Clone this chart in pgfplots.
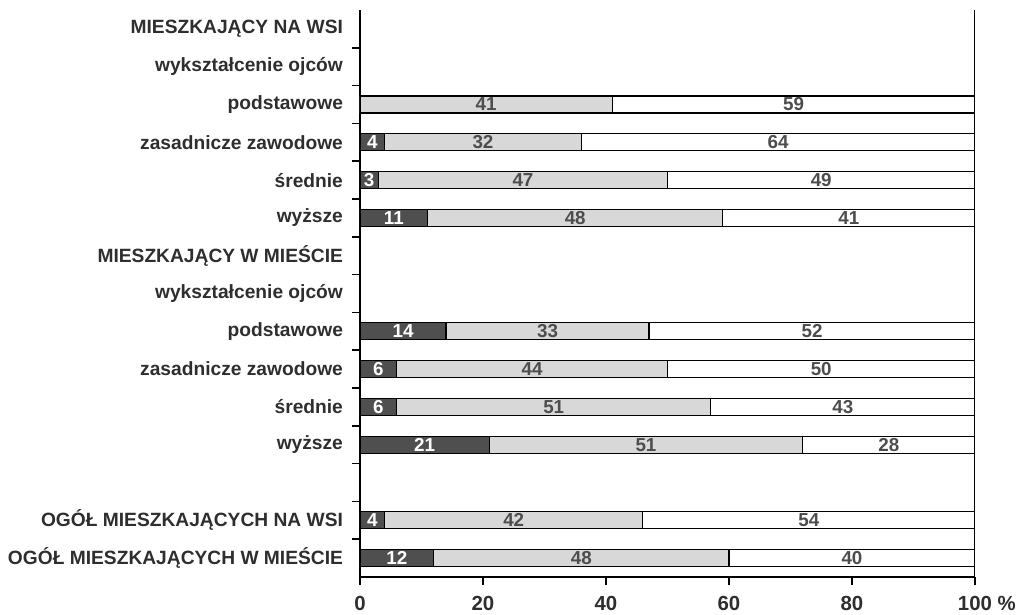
\documentclass[border=0pt]{standalone}
\usepackage{pgfplots}
\usepackage{pgfplotstable}
\pgfplotsset{compat=1.18}
\usepackage{fontspec}
\setmainfont{Liberation Sans}

\definecolor{ciemny}{HTML}{4F4F4F}
\definecolor{jasny}{HTML}{D8D8D8}
\definecolor{tekst}{HTML}{2E2E2E}

% y: pozycja wiersza (14 = gora), a: ciemny, b: jasny, c: bialy (jak na wykresie)
\pgfplotstableread{
y  a  b  c
12 0  41 59
11 4  32 64
10 3  47 49
9  11 48 41
6  14 33 52
5  6  44 50
4  6  51 43
3  21 51 28
1  4  42 54
0  12 48 40
}\dane
\pgfplotstablecreatecol[create col/expr={100-\thisrow{a}-\thisrow{b}}]{w}\dane
\pgfplotstablecreatecol[create col/expr={\thisrow{a}/2}]{ca}\dane
\pgfplotstablecreatecol[create col/expr={\thisrow{a}+\thisrow{b}/2}]{cb}\dane
\pgfplotstablecreatecol[create col/expr={(100+\thisrow{a}+\thisrow{b})/2}]{cc}\dane

\pgfplotsset{wspolne/.style={
  scale only axis, width=307.5pt, height=283.5pt,
  xmin=0, xmax=100, ymin=-0.5, ymax=14.5,
  at={(0,0)}, anchor=south west,
}}

\begin{document}
\begin{tikzpicture}
\begin{axis}[wspolne,
  xbar stacked, bar width=8.5pt,
  axis lines=left, axis line style={-, line width=0.8pt, black},
  tick align=outside, major tick length=0pt, minor tick length=4pt,
  minor tick style={line width=0.8pt, black},
  xtick={0,20,...,100},
  xticklabels={0,20,40,60,80,{100\rlap{ \%}}},
  minor xtick={0,20,...,100},
  xticklabel style={font=\bfseries\fontsize{10.2}{12}\selectfont, text=tekst, yshift=-6pt},
  ytick={0,...,14},
  minor ytick={0.5,1.5,...,13.5},
  yticklabels={OGÓŁ MIESZKAJĄCYCH W MIEŚCIE, OGÓŁ MIESZKAJĄCYCH NA WSI, {},
    wyższe, średnie, zasadnicze zawodowe, podstawowe, wykształcenie ojców,
    MIESZKAJĄCY W MIEŚCIE,
    wyższe, średnie, zasadnicze zawodowe, podstawowe, wykształcenie ojców,
    MIESZKAJĄCY NA WSI},
  yticklabel style={font=\bfseries\fontsize{9.6}{11}\selectfont, text=tekst, xshift=-5pt},
]
\addplot[fill=ciemny, draw=black, line width=0.6pt] table[x=a, y=y] {\dane};
\addplot[fill=jasny, draw=black, line width=0.6pt] table[x=b, y=y] {\dane};
\addplot[fill=white, draw=black, line width=0.6pt] table[x=w, y=y] {\dane};
\draw[line width=0.8pt] (rel axis cs:1,0) -- (rel axis cs:1,1);
\end{axis}

\begin{axis}[wspolne, hide axis,
  every node near coord/.style={anchor=center, inner sep=0pt,
    font=\bfseries\fontsize{9.4}{10}\selectfont}]
\addplot[draw=none, mark=none, restrict x to domain=1:100,
  nodes near coords, point meta=explicit symbolic,
  every node near coord/.append style={text=white}]
  table[x=ca, y=y, meta=a] {\dane};
\addplot[draw=none, mark=none,
  nodes near coords, point meta=explicit symbolic,
  every node near coord/.append style={text=tekst!85}]
  table[x=cb, y=y, meta=b] {\dane};
\addplot[draw=none, mark=none,
  nodes near coords, point meta=explicit symbolic,
  every node near coord/.append style={text=tekst!85}]
  table[x=cc, y=y, meta=c] {\dane};
\end{axis}
\pgfresetboundingbox
\path (-180pt,-19pt) rectangle (329.5pt,288.5pt);
\end{tikzpicture}
\end{document}
